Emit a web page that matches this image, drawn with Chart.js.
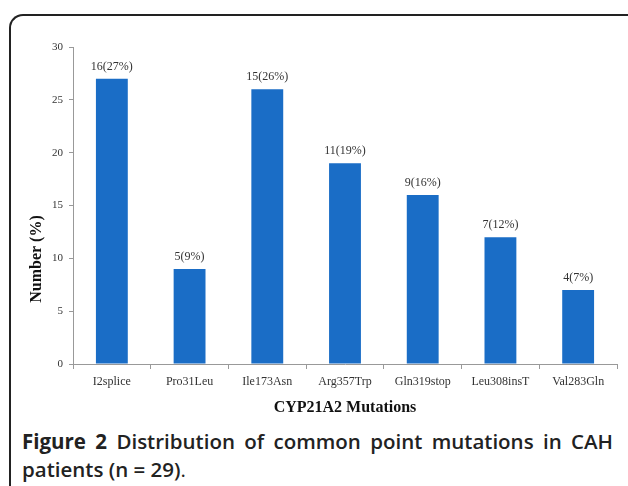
<!DOCTYPE html>
<html>
<head>
<meta charset="utf-8">
<script src="https://cdn.jsdelivr.net/npm/chart.js@4/dist/chart.umd.min.js"></script>
<style>
	body { margin: 0; background: #fff; width: 628px; height: 486px; overflow: hidden; position: relative; }
	#frame { position: absolute; left: 9px; top: 14px; width: 700px; height: 520px; border-top: 2px solid #222; border-left: 2px solid #222; border-top-left-radius: 14px; }
	#chartBox { position: absolute; left: 0; top: 0; width: 628px; height: 425px; }
	#caption { position: absolute; left: 22px; top: 427px; width: 591px; font-family: "Open Sans", sans-serif; font-size: 20.5px; font-weight: 600; line-height: 28px; color: #222; }
	#caption .line1 { text-align: justify; text-align-last: justify; white-space: nowrap; }
	#caption b { font-weight: 700; }
</style>
</head>
<body>
<div id="frame"></div>
<div id="chartBox"><canvas id="BarChart"></canvas></div>
<div id="caption"><div class="line1"><b>Figure 2</b> Distribution of common point mutations in CAH</div><div>patients (n = 29)<span style="font-weight:400">.</span></div></div>
<script>
// categories and values
var mutations = ['I2splice', 'Pro31Leu', 'Ile173Asn', 'Arg357Trp', 'Gln319stop', 'Leu308insT', 'Val283Gln'];
var percentValues = [27, 9, 26, 19, 16, 12, 7];
var patientCounts = [16, 5, 15, 11, 9, 7, 4];
var yTicks = [0, 5, 10, 15, 20, 25, 30];

var barLabels = [];
for (var i = 0; i < mutations.length; i++) {
	barLabels.push(patientCounts[i] + '(' + percentValues[i] + '%)');
}

// labels on top of bars
var barValuePlugin = {
	id: 'barValues',
	afterDatasetsDraw: function (chart) {
		var ctx = chart.ctx;
		var meta = chart.getDatasetMeta(0);
		ctx.save();
		ctx.font = '12px "Liberation Serif", "Times New Roman", serif';
		ctx.fillStyle = '#333';
		ctx.textAlign = 'center';
		ctx.textBaseline = 'middle';
		meta.data.forEach(function (bar, idx) {
			ctx.fillText(barLabels[idx], bar.x, bar.y - 12);
		});
		ctx.restore();
	}
};

// y title sits a bit below middle in the original
var yTitlePlugin = {
	id: 'yTitle',
	afterDraw: function (chart) {
		var ctx = chart.ctx;
		ctx.save();
		ctx.translate(37, 259);
		ctx.rotate(-Math.PI / 2);
		ctx.font = 'bold 16px "Liberation Serif", "Times New Roman", serif';
		ctx.fillStyle = '#111';
		ctx.textAlign = 'center';
		ctx.textBaseline = 'middle';
		ctx.fillText('Number (%)', 0, 0);
		ctx.restore();
	}
};

const data = {
	labels: mutations,
	datasets: [{
		data: percentValues,
		backgroundColor: '#1a6dc6',
		categoryPercentage: 1,
		barPercentage: 0.41
	}]
};

const config = {
	type: 'bar',
	data: data,
	options: {
		responsive: true,
		maintainAspectRatio: false,
		animation: false,
		layout: { padding: { top: 47, right: 11, bottom: 4, left: 0 } },
		plugins: {
			legend: { display: false },
			tooltip: { enabled: false }
		},
		scales: {
			x: {
				grid: { display: true, drawOnChartArea: false, offset: true, tickLength: 5, color: '#999' },
				border: { color: '#999' },
				ticks: { color: '#333', padding: 6, font: { family: '"Liberation Serif", serif', size: 12 } },
				title: { display: true, text: 'CYP21A2 Mutations', color: '#111', padding: { top: 4, bottom: 4 }, font: { family: '"Liberation Serif", serif', size: 16, weight: 'bold' } },
				afterFit: function (scale) { scale.height = 57; }
			},
			y: {
				min: 0,
				max: 30,
				afterBuildTicks: function (scale) { scale.ticks = yTicks.map(function (v) { return { value: v }; }); },
				grid: { display: true, drawOnChartArea: false, tickLength: 4, color: '#999' },
				border: { color: '#999' },
				ticks: { color: '#333', padding: 6, font: { family: '"Liberation Serif", serif', size: 11 } },
				afterFit: function (scale) { scale.width = 73; }
			}
		}
	},
	plugins: [barValuePlugin, yTitlePlugin]
};

var barChart = new Chart(document.getElementById('BarChart'), config);
</script>
</body>
</html>
